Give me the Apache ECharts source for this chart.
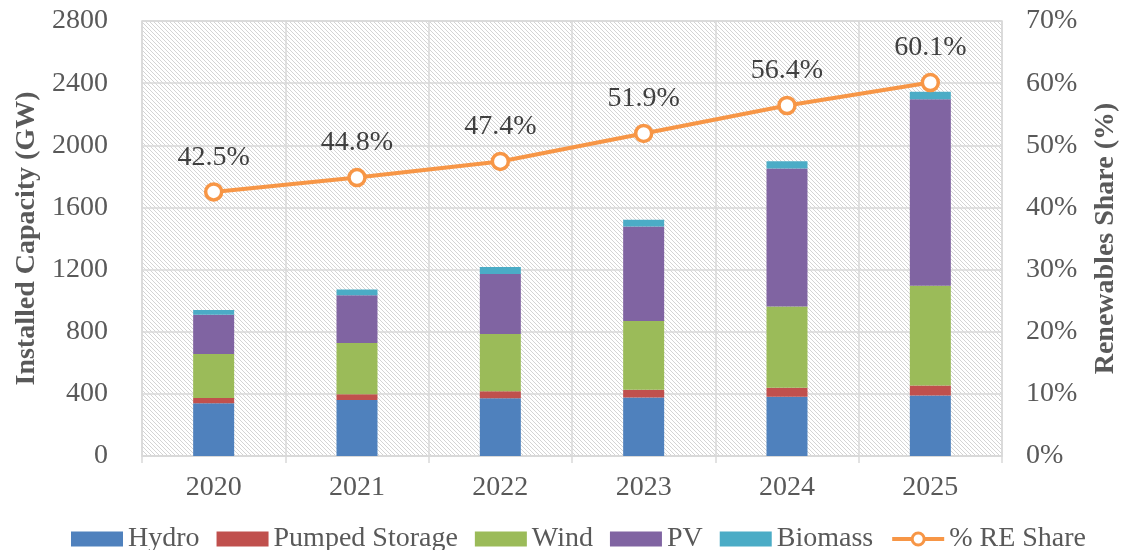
<!DOCTYPE html>
<html><head><meta charset="utf-8">
<script src="https://cdn.jsdelivr.net/npm/echarts@6/dist/echarts.min.js"></script>
<style>html,body{margin:0;padding:0;background:#fff}#c{width:1122px;height:550px}</style>
</head><body><div id="c"></div>
<script>
const years = ['2020','2021','2022','2023','2024','2025'];
const hydro = [340, 360, 372, 376, 382, 390];
const pumped = [34, 38, 45, 50, 58, 63];
const wind = [282, 330, 368, 443, 522, 643];
const pv = [253, 307, 387, 608, 888, 1200];
const biomass = [31, 37, 45, 43, 48, 49];
const reShare = [42.5, 44.8, 47.4, 51.9, 56.4, 60.1];
const leftTicks = {min: 0, max: 2800, interval: 400};
const rightTicks = {min: 0, max: 70, interval: 10};

function hatch() {
  const n = 4;
  const c = document.createElement('canvas');
  c.width = n; c.height = n;
  const g = c.getContext('2d');
  g.fillStyle = '#ffffff'; g.fillRect(0, 0, n, n);
  g.strokeStyle = '#d4d4d4'; g.lineWidth = 1;
  for (const off of [-n, 0, n]) {
    g.beginPath(); g.moveTo(off, 0); g.lineTo(off + n, n); g.stroke();
  }
  return c;
}

const FONT = 'Liberation Serif';
const TXT = '#595959';
const GRIDC = '#d9d9d9';
const FS = 28;
const chart = echarts.init(document.getElementById('c'), null, {renderer: 'canvas'});

function barSeries(name, data, color) {
  return {name, type: 'bar', stack: 'cap', data, barWidth: 41,
    itemStyle: {color}, emphasis: {disabled: true}};
}

chart.setOption({
  animation: false,
  textStyle: {fontFamily: FONT},
  grid: {left: 142, right: 120, top: 21, bottom: 94, show: true,
    outerBoundsMode: 'none', containLabel: false,
    backgroundColor: {image: hatch(), repeat: 'repeat'},
    borderColor: GRIDC, borderWidth: 1.5},
  legend: {
    left: 66, top: 520, itemWidth: 52, itemHeight: 15, itemGap: 17,
    textStyle: {fontFamily: FONT, fontSize: FS, color: TXT},
    data: [
      {name: 'Hydro', icon: 'rect'},
      {name: 'Pumped Storage', icon: 'rect'},
      {name: 'Wind', icon: 'rect'},
      {name: 'PV', icon: 'rect'},
      {name: 'Biomass', icon: 'rect'},
      {name: '% RE Share', lineStyle: {width: 4}, itemStyle: {borderWidth: 3}}
    ]
  },
  xAxis: {
    type: 'category', data: years,
    axisLine: {lineStyle: {color: GRIDC, width: 1.5}},
    axisTick: {show: true, length: 7, lineStyle: {color: GRIDC, width: 1.5}},
    splitLine: {show: true, lineStyle: {color: GRIDC, width: 1.5}},
    axisLabel: {fontFamily: FONT, fontSize: FS, color: TXT, margin: 18}
  },
  yAxis: [
    {type: 'value', min: leftTicks.min, max: leftTicks.max, interval: leftTicks.interval,
      name: 'Installed Capacity (GW)', nameLocation: 'middle', nameGap: 98,
      nameTextStyle: {fontFamily: FONT, fontSize: FS, fontWeight: 'bold', color: TXT},
      axisLine: {show: false}, axisTick: {show: false},
      splitLine: {show: true, lineStyle: {color: GRIDC, width: 1.5}},
      axisLabel: {fontFamily: FONT, fontSize: FS, color: TXT, margin: 34,
        formatter: v => String(v)}},
    {type: 'value', min: rightTicks.min, max: rightTicks.max, interval: rightTicks.interval,
      name: 'Renewables Share (%)', nameLocation: 'middle', nameGap: 90,
      nameTextStyle: {fontFamily: FONT, fontSize: FS, fontWeight: 'bold', color: TXT},
      axisLine: {show: false}, axisTick: {show: false}, splitLine: {show: false},
      axisLabel: {fontFamily: FONT, fontSize: FS, color: TXT, margin: 24, formatter: '{value}%'}}
  ],
  series: [
    barSeries('Hydro', hydro, '#4F81BD'),
    barSeries('Pumped Storage', pumped, '#C0504D'),
    barSeries('Wind', wind, '#9BBB59'),
    barSeries('PV', pv, '#8064A2'),
    barSeries('Biomass', biomass, '#4BACC6'),
    {name: '% RE Share', type: 'line', yAxisIndex: 1, data: reShare,
      symbol: 'circle', symbolSize: 16,
      lineStyle: {color: '#F79646', width: 4},
      itemStyle: {color: '#ffffff', borderColor: '#F79646', borderWidth: 3.5},
      label: {show: true, position: 'top', distance: 11, formatter: '{c}%',
        fontFamily: FONT, fontSize: FS, color: '#404040'},
      emphasis: {disabled: true}, z: 5}
  ]
});
</script></body></html>
